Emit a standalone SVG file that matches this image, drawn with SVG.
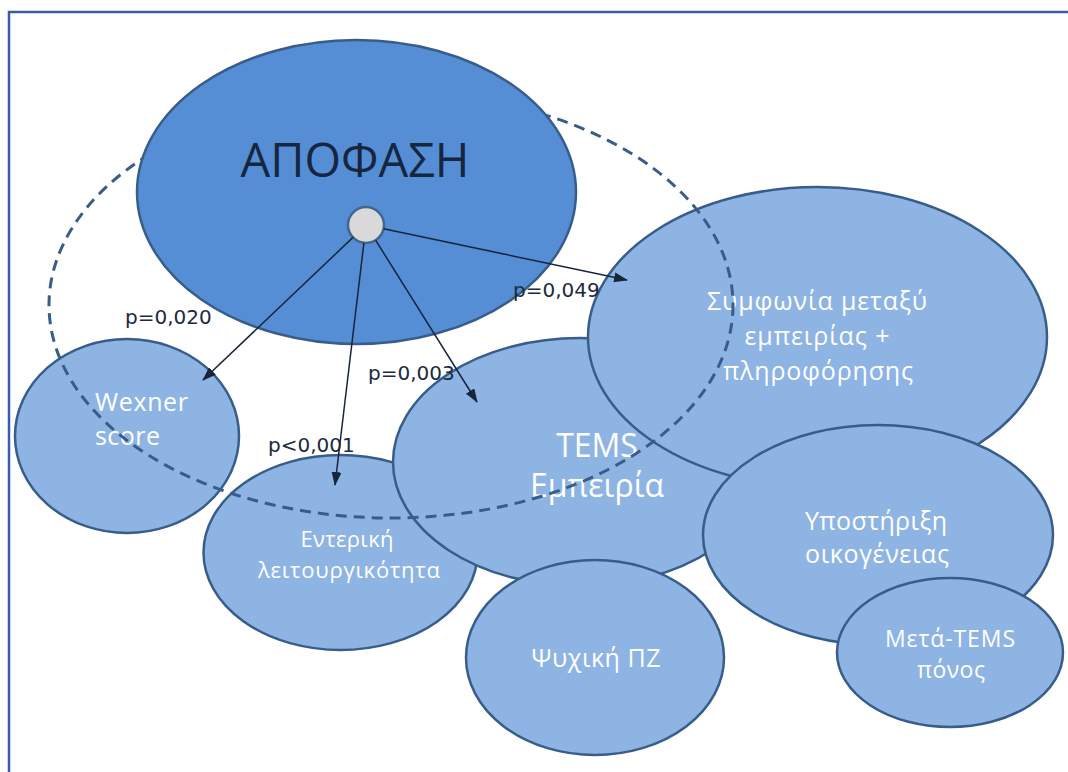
<svg xmlns="http://www.w3.org/2000/svg" width="1068" height="772" viewBox="0 0 1068 772">
<style>
.n{fill:#8eb4e3;stroke:#385d8a;stroke-width:2.5}
.t{font-family:"Open Sans","Noto Sans",sans-serif;fill:#ffffff;text-anchor:middle}
.p{font-family:"DejaVu Sans",sans-serif;font-size:20px;fill:#1b2a40}
.c{stroke:#17253a;stroke-width:1.5;fill:none;marker-end:url(#ah)}
</style>
<defs>
<marker id="ah" markerUnits="userSpaceOnUse" markerWidth="14" markerHeight="10" viewBox="0 0 14 10" refX="13" refY="5" orient="auto">
<path d="M0,0 L14,5 L0,10 Z" fill="#17253a"/>
</marker>
</defs>
<rect width="1068" height="772" fill="#ffffff"/>
<path d="M9,772 V12 H1068" fill="none" stroke="#3a5ca9" stroke-width="2.5"/>
<g id="wexner">
<ellipse class="n" cx="127" cy="436" rx="112" ry="97"/>
<text class="t" style="text-anchor:start" x="95" y="411" font-size="25" textLength="93">Wexner</text>
<text class="t" style="text-anchor:start" x="95" y="445" font-size="25" textLength="65">score</text>
</g>
<g id="enteriki">
<ellipse class="n" cx="340.5" cy="552.5" rx="137" ry="97.5"/>
<text class="t" x="347" y="547" font-size="22" textLength="93">Εντερική</text>
<text class="t" x="349" y="578" font-size="22" textLength="182">λειτουργικότητα</text>
</g>
<g id="tems">
<ellipse class="n" cx="580" cy="462" rx="187" ry="124"/>
<text class="t" x="597" y="457" font-size="32">TEMS</text>
<text class="t" x="597" y="497" font-size="32">Εμπειρία</text>
</g>
<g id="psychiki">
<ellipse class="n" cx="595" cy="657.5" rx="129" ry="97.5"/>
<text class="t" x="596" y="667" font-size="25" textLength="129">Ψυχική ΠΖ</text>
</g>
<g id="symfonia">
<ellipse class="n" cx="817.5" cy="337" rx="229.5" ry="150"/>
<text class="t" x="817" y="310" font-size="25" textLength="220">Συμφωνία μεταξύ</text>
<text class="t" x="817" y="345" font-size="25" textLength="145">εμπειρίας +</text>
<text class="t" x="818" y="380" font-size="25" textLength="190">πληροφόρησης</text>
</g>
<g id="ypostirixi">
<ellipse class="n" cx="878" cy="535" rx="175" ry="110"/>
<text class="t" x="876" y="530" font-size="25" textLength="142">Υποστήριξη</text>
<text class="t" x="877" y="563" font-size="25" textLength="144">οικογένειας</text>
</g>
<g id="meta-tems">
<ellipse class="n" cx="950" cy="652.5" rx="113" ry="74.5"/>
<text class="t" x="950" y="647" font-size="23" textLength="130">Μετά-TEMS</text>
<text class="t" x="951" y="678" font-size="23" textLength="68">πόνος</text>
</g>
<g id="boundary">
<ellipse cx="391" cy="305" rx="342" ry="213" fill="none" stroke="#385d8a" stroke-width="3" stroke-dasharray="11 7"/>
</g>
<g id="apofasi">
<ellipse cx="356.5" cy="192" rx="219.5" ry="152" fill="#558ed5" stroke="#385d8a" stroke-width="2.5"/>
<text x="355" y="177" font-family="Open Sans, Noto Sans, sans-serif" font-size="47" fill="#162640" text-anchor="middle">ΑΠΟΦΑΣΗ</text>
<circle cx="366" cy="225" r="18" fill="#d9d9d9" stroke="#41668f" stroke-width="2.5"/>
</g>
<g id="connectors">
<line class="c" x1="353" y1="237.4" x2="203" y2="380"/>
<line class="c" x1="363.9" y1="242.9" x2="335" y2="485"/>
<line class="c" x1="375.6" y1="240.2" x2="477" y2="402"/>
<line class="c" x1="383.6" y1="228.7" x2="627" y2="280"/>
</g>
<g id="labels">
<text class="p" x="125" y="324">p=0,020</text>
<text class="p" x="268" y="452">p&lt;0,001</text>
<text class="p" x="368" y="380">p=0,003</text>
<text class="p" x="513" y="297">p=0,049</text>
</g>
</svg>
